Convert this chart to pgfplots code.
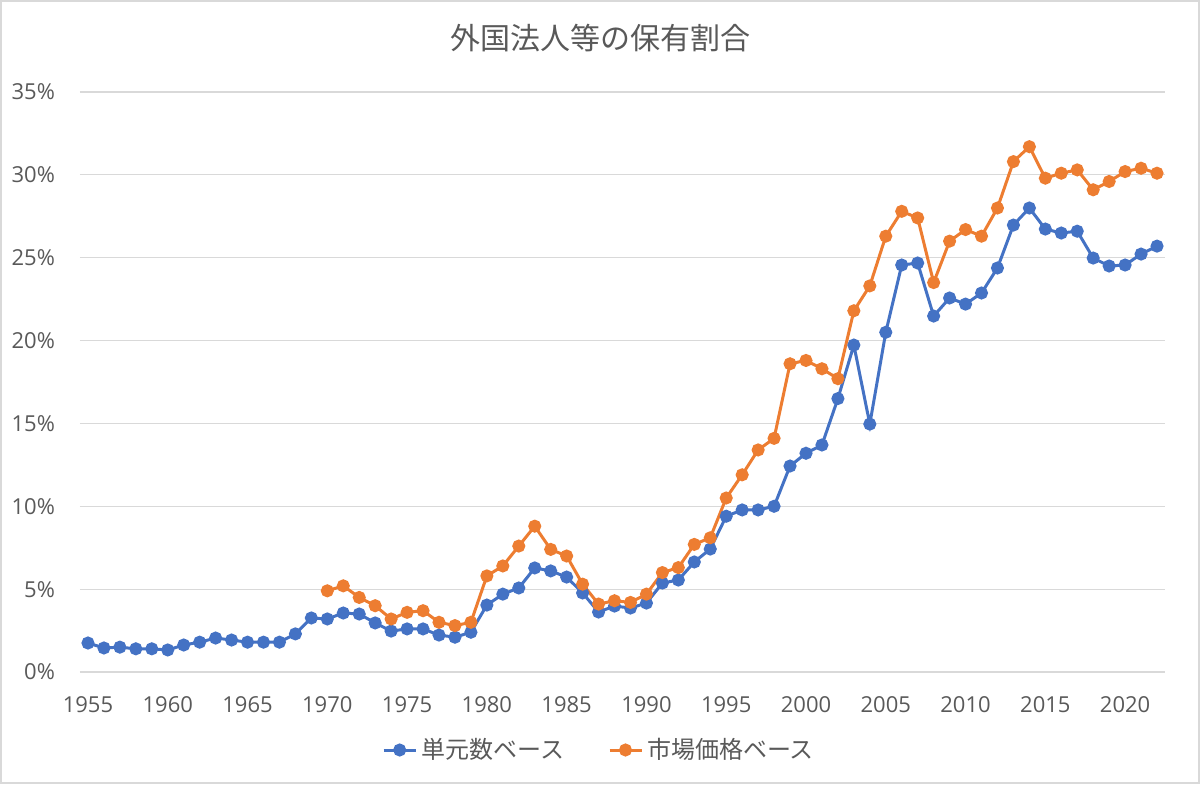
\documentclass[border=0pt]{standalone}
\usepackage{fontspec}
\setmainfont{Open Sans}
\newfontfamily\jp{Noto Sans CJK JP}
\usepackage{pgfplots}
\pgfplotsset{compat=1.18}
\definecolor{cblue}{HTML}{4472C4}
\definecolor{corange}{HTML}{ED7D31}
\definecolor{cgrid}{HTML}{D9D9D9}
\definecolor{ctext}{HTML}{595959}
\begin{document}
\begin{tikzpicture}
\useasboundingbox (-40pt,-56pt) rectangle (560pt,336pt);
\draw[cgrid, line width=0.8pt] (-39.6pt,-55.6pt) rectangle (559.6pt,335.6pt);
\begin{axis}[
  at={(0pt,0pt)}, anchor=south west,
  scale only axis, width=542.5pt, height=290pt,
  xmin=1954.5, xmax=2022.5, ymin=0, ymax=35,
  xtick={1955,1960,...,2020}, ytick={0,5,...,35},
  xticklabel style={/pgf/number format/1000 sep={}, font=\fontsize{11}{13}\selectfont, text=ctext, anchor=center, yshift=-16.5pt},
  yticklabel style={font=\fontsize{11}{13}\selectfont, text=ctext, anchor=east, xshift=-9pt},
  yticklabel={\pgfmathprintnumber{\tick}\%},
  /pgf/number format/assume math mode=true,
  major tick length=0pt,
  ymajorgrids, grid style={cgrid, line width=0.6pt},
  axis line style={draw=none},
  axis x line*=bottom, axis y line*=left,
  clip=false,
  legend style={at={(260pt,-39pt)}, anchor=center, draw=none, fill=none, legend columns=2, font=\jp\fontsize{12}{14}\selectfont, text=ctext, /tikz/every even column/.append style={column sep=20pt}},
  legend cell align=left,
  legend image code/.code={\draw[#1, line width=1.5pt] (0pt,0pt) -- (16pt,0pt); \fill[#1] (8pt,0pt) circle (2.5pt);},
]
\draw[cgrid, line width=0.6pt] (axis cs:1954.5,0) -- (axis cs:2022.5,0);
\addplot[cblue, line width=1.5pt, mark=*, mark size=2.5pt] coordinates {
(1955,1.75)(1956,1.45)(1957,1.5)(1958,1.4)(1959,1.4)(1960,1.33)(1961,1.63)(1962,1.8)(1963,2.05)(1964,1.93)
(1965,1.8)(1966,1.8)(1967,1.8)(1968,2.3)(1969,3.26)(1970,3.2)(1971,3.56)(1972,3.5)(1973,2.96)(1974,2.47)
(1975,2.6)(1976,2.6)(1977,2.23)(1978,2.1)(1979,2.4)(1980,4.04)(1981,4.7)(1982,5.07)(1983,6.28)(1984,6.1)
(1985,5.73)(1986,4.77)(1987,3.62)(1988,3.98)(1989,3.86)(1990,4.16)(1991,5.37)(1992,5.55)(1993,6.64)(1994,7.42)
(1995,9.4)(1996,9.78)(1997,9.78)(1998,10.0)(1999,12.43)(2000,13.2)(2001,13.7)(2002,16.5)(2003,19.73)(2004,14.96)
(2005,20.5)(2006,24.56)(2007,24.68)(2008,21.48)(2009,22.57)(2010,22.2)(2011,22.87)(2012,24.38)(2013,26.97)(2014,28.0)
(2015,26.73)(2016,26.49)(2017,26.6)(2018,24.98)(2019,24.5)(2020,24.56)(2021,25.22)(2022,25.7)
};
\addlegendentry{単元数ベース}
\addplot[corange, line width=1.5pt, mark=*, mark size=2.5pt] coordinates {
(1970,4.9)(1971,5.2)(1972,4.5)(1973,4.0)(1974,3.2)(1975,3.6)(1976,3.7)(1977,3.0)(1978,2.8)(1979,3.0)
(1980,5.8)(1981,6.4)(1982,7.6)(1983,8.8)(1984,7.4)(1985,7.0)(1986,5.3)(1987,4.1)(1988,4.3)(1989,4.2)
(1990,4.7)(1991,6.0)(1992,6.3)(1993,7.7)(1994,8.1)(1995,10.5)(1996,11.9)(1997,13.4)(1998,14.1)(1999,18.6)
(2000,18.8)(2001,18.3)(2002,17.7)(2003,21.8)(2004,23.3)(2005,26.3)(2006,27.8)(2007,27.4)(2008,23.5)(2009,26.0)
(2010,26.7)(2011,26.3)(2012,28.0)(2013,30.8)(2014,31.7)(2015,29.8)(2016,30.1)(2017,30.3)(2018,29.1)(2019,29.6)
(2020,30.2)(2021,30.4)(2022,30.1)
};
\addlegendentry{市場価格ベース}
\end{axis}
\node[text=ctext, font=\jp\fontsize{15}{17}\selectfont, anchor=center] at (260pt,317pt) {外国法人等の保有割合};
\end{tikzpicture}
\end{document}
